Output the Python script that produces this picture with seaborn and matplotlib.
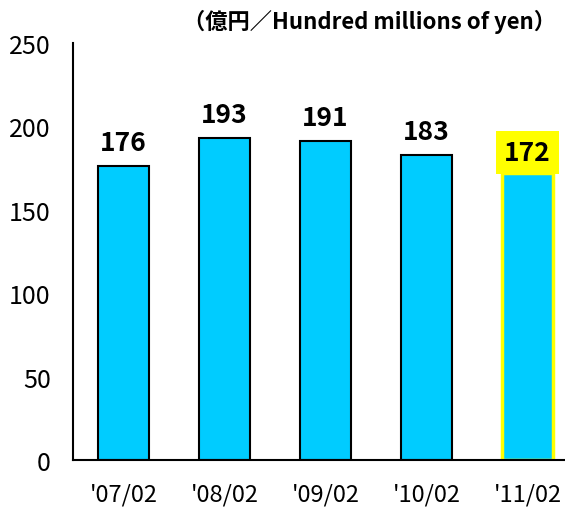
import matplotlib

matplotlib.use("Agg")
import matplotlib.pyplot as plt
import pandas as pd
import seaborn as sns

periods = ["'07/02", "'08/02", "'09/02", "'10/02", "'11/02"]
values = [176, 193, 191, 183, 172]
y_ticks = [0, 50, 100, 150, 200, 250]
unit_label = "（億円／Hundred millions of yen）"

BAR_COLOR = "#00CCFF"
HIGHLIGHT = "#FFFF00"

sns.set_style("white")
plt.rcParams["font.family"] = ["Noto Sans CJK JP", "DejaVu Sans"]
plt.rcParams["text.color"] = "black"
plt.rcParams["xtick.color"] = "black"
plt.rcParams["ytick.color"] = "black"

df = pd.DataFrame({"period": periods, "value": values})

fig = plt.figure(figsize=(5.65, 5.10), dpi=100)
ax = fig.add_axes([73 / 565, (510 - 461) / 510, 505 / 565, (461 - 44) / 510])

sns.barplot(data=df, x="period", y="value", order=periods, color=BAR_COLOR,
            width=0.51, saturation=1, edgecolor="black", linewidth=1.5, ax=ax)

last = ax.patches[-1]
last.set_edgecolor(HIGHLIGHT)
last.set_linewidth(2.5)

for i, v in enumerate(values):
    if i == len(values) - 1:
        ax.text(i, v + 4.5, str(v), ha="center", va="bottom", fontsize=19,
                fontweight="bold",
                bbox=dict(boxstyle="square,pad=0.3", facecolor=HIGHLIGHT, edgecolor="none"))
    else:
        ax.text(i, v + 6, str(v), ha="center", va="bottom", fontsize=19, fontweight="bold")

ax.set_ylim(0, 250)
ax.set_xlim(-0.5, len(periods) - 0.5)
ax.set_yticks(y_ticks)
ax.set_xlabel("")
ax.set_ylabel("")
ax.tick_params(axis="y", direction="in", length=7, width=1.3, labelsize=18, pad=16)
ax.tick_params(axis="x", which="major", length=0, labelsize=17, pad=16)
ax.set_xticks([i + 0.5 for i in range(len(periods) - 1)], minor=True)
ax.tick_params(axis="x", which="minor", direction="in", length=7, width=1.3)

for side in ["top", "right"]:
    ax.spines[side].set_visible(False)
for side in ["left", "bottom"]:
    ax.spines[side].set_color("black")
    ax.spines[side].set_linewidth(1.5)

fig.text(556 / 565, 1 - 22 / 510, unit_label, ha="right", va="center",
         fontsize=16, fontweight="bold")

fig.savefig("out.png", dpi=100)
